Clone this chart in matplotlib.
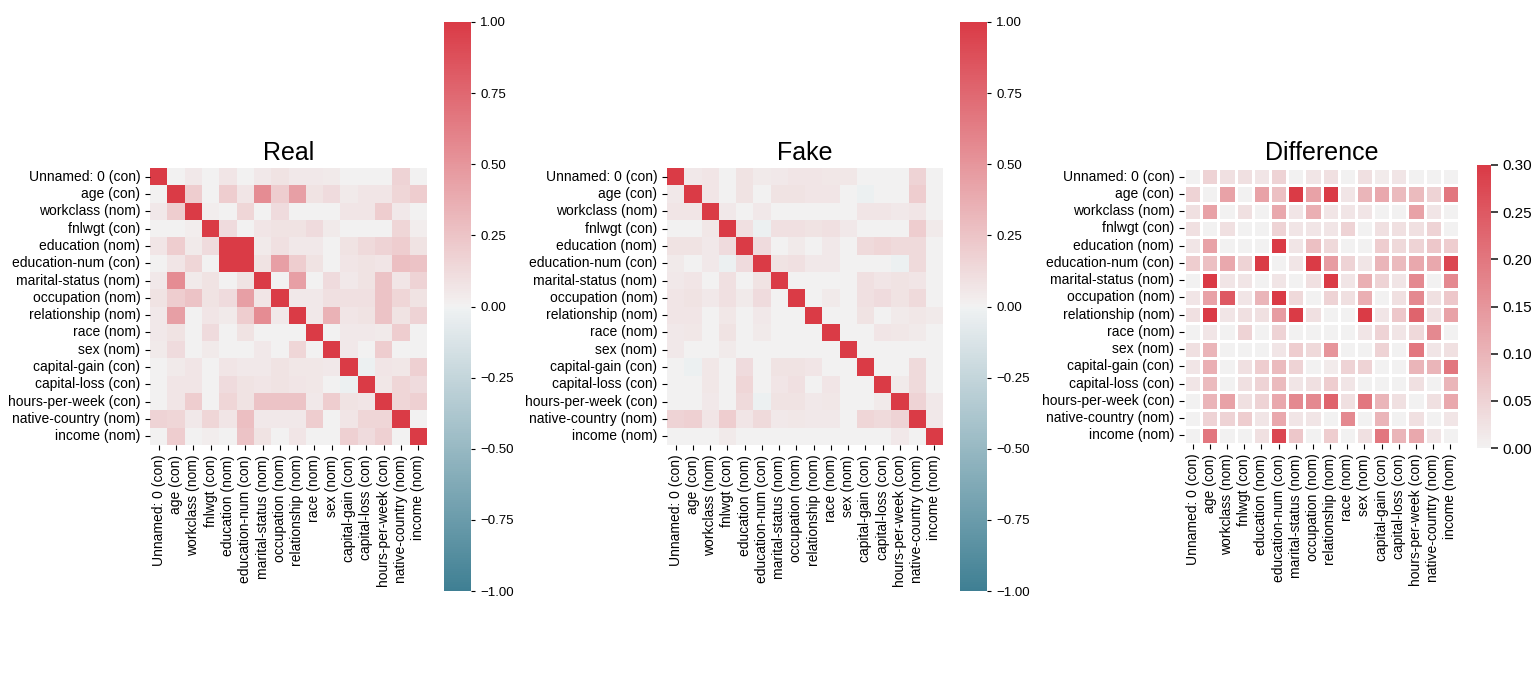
import numpy as np
import matplotlib
matplotlib.use("Agg")
import matplotlib.pyplot as plt
import seaborn as sns

plt.rcParams['font.family'] = ['Liberation Sans', 'DejaVu Sans']

labels = ["Unnamed: 0 (con)", "age (con)", "workclass (nom)", "fnlwgt (con)",
          "education (nom)", "education-num (con)", "marital-status (nom)",
          "occupation (nom)", "relationship (nom)", "race (nom)", "sex (nom)",
          "capital-gain (con)", "capital-loss (con)", "hours-per-week (con)",
          "native-country (nom)", "income (nom)"]

# correlation / association values
real = np.array([
    [1, 0, 0.05, 0, 0.07, 0, 0.05, 0.08, 0.05, 0.05, 0.04, 0, 0, 0, 0.17, 0],
    [0, 1, 0.2, 0, 0.2, 0.07, 0.55, 0.2, 0.45, 0.08, 0.12, 0.04, 0.07, 0.07, 0.15, 0.2],
    [0.05, 0.2, 1, 0.03, 0, 0.15, 0, 0.12, 0, 0, 0, 0.07, 0.07, 0.2, 0.05, 0],
    [0, 0, 0.03, 1, 0.12, 0, 0.07, 0.08, 0.08, 0.12, 0.04, 0, 0, 0, 0.15, 0.03],
    [0.07, 0.2, 0.04, 0.12, 1, 1, 0.04, 0.1, 0.05, 0.05, 0, 0.08, 0.13, 0.17, 0.2, 0.08],
    [0, 0.07, 0.15, 0, 1, 1, 0.08, 0.45, 0.2, 0.08, 0, 0.07, 0.08, 0.07, 0.28, 0.25],
    [0.05, 0.55, 0.04, 0.08, 0, 0.08, 1, 0, 0.45, 0, 0.12, 0.05, 0.08, 0.25, 0.07, 0.17],
    [0.08, 0.2, 0.25, 0.08, 0.12, 0.45, 0.07, 1, 0.05, 0.05, 0.1, 0.1, 0.1, 0.25, 0.15, 0.08],
    [0.05, 0.45, 0, 0.07, 0.04, 0.2, 0.55, 0.05, 1, 0.05, 0.35, 0.07, 0.08, 0.25, 0.08, 0.17],
    [0.05, 0.08, 0, 0.12, 0, 0.08, 0, 0, 0, 1, 0, 0.05, 0.05, 0.04, 0.2, 0],
    [0.04, 0.12, 0, 0.04, 0, 0, 0.05, 0, 0.15, 0, 1, 0.05, 0, 0.2, 0, 0],
    [0, 0.04, 0.07, 0, 0.07, 0.05, 0.05, 0.08, 0.06, 0.06, 0.05, 1, -0.02, 0.07, 0.06, 0.18],
    [0, 0.07, 0.07, 0, 0.12, 0.08, 0.07, 0.08, 0.07, 0.06, 0, -0.02, 1, 0.06, 0.15, 0.12],
    [0, 0.07, 0.2, 0, 0.15, 0.08, 0.25, 0.25, 0.25, 0.05, 0.2, 0.08, 0.07, 1, 0.15, 0.18],
    [0.17, 0.15, 0.05, 0.15, 0.07, 0.28, 0.05, 0.05, 0.05, 0.2, 0, 0.07, 0.15, 0.15, 1, 0],
    [0, 0.2, 0, 0.03, 0, 0.25, 0.08, 0, 0.07, 0, 0, 0.18, 0.12, 0.18, 0, 1],
])

fake = np.array([
    [1, 0.05, 0.07, 0, 0.08, 0.04, 0.05, 0.07, 0.07, 0.06, 0.06, 0, 0, 0, 0.17, 0],
    [0.05, 1, 0.07, 0, 0.08, 0, 0.08, 0.08, 0.07, 0.07, 0, -0.02, 0, 0, 0.2, 0],
    [0.07, 0.07, 1, 0.05, 0, 0.05, 0, 0, 0, 0, 0, 0.07, 0.07, 0.05, 0.07, 0],
    [0, 0, 0.06, 1, 0.1, -0.02, 0.1, 0.1, 0.08, 0.1, 0.05, 0, 0, 0, 0.2, 0.04],
    [0.08, 0.08, 0.05, 0.12, 1, 0.12, 0, 0.04, 0, 0.05, 0, 0.13, 0.15, 0.13, 0.13, 0],
    [0.04, 0, 0.05, -0.02, 0.12, 1, 0.08, 0.1, 0.05, 0.05, 0, 0, 0, -0.02, 0.13, 0],
    [0.05, 0.07, 0, 0.1, 0, 0.08, 1, 0, 0, 0, 0, 0.1, 0.07, 0.08, 0.07, 0],
    [0.07, 0.08, 0.05, 0.1, 0.04, 0.12, 0, 1, 0, 0.04, 0, 0.1, 0.12, 0.08, 0.13, 0],
    [0.07, 0.07, 0, 0.06, 0, 0.05, 0, 0, 1, 0, 0, 0.08, 0, 0.04, 0.06, 0.04],
    [0.05, 0.06, 0, 0.08, 0, 0.04, 0, 0, 0, 1, 0, 0, 0.07, 0.06, 0.04, 0],
    [0.05, 0, 0, 0.04, 0, 0, 0, 0, 0, 0, 1, 0, 0, 0, 0, 0],
    [0, -0.02, 0.06, 0, 0.12, 0, 0.08, 0.08, 0.07, 0, 0, 1, 0, 0, 0.13, 0],
    [0, 0, 0.06, 0, 0.15, 0, 0.07, 0.1, 0, 0.07, 0, 0, 1, 0.04, 0.13, 0],
    [0, 0, 0.05, 0, 0.13, -0.02, 0.08, 0.08, 0.05, 0.06, 0, 0, 0.04, 1, 0.17, 0.05],
    [0.17, 0.18, 0.07, 0.2, 0.07, 0.13, 0.05, 0.06, 0.05, 0.05, 0, 0.15, 0.13, 0.17, 1, 0.05],
    [0, 0, 0, 0.04, 0, 0, 0, 0, 0, 0, 0, 0, 0, 0.05, 0, 1],
])

diff = np.array([
    [0, 0.05, 0.03, 0.03, 0.02, 0.05, 0, 0.02, 0.03, 0, 0.03, 0.01, 0.02, 0, 0, 0],
    [0.05, 0, 0.13, 0, 0.13, 0.08, 0.3, 0.13, 0.3, 0.02, 0.1, 0.12, 0.09, 0.09, 0.05, 0.2],
    [0.03, 0.13, 0, 0.03, 0, 0.12, 0.02, 0.11, 0.02, 0.02, 0.02, 0, 0, 0.13, 0.02, 0],
    [0.03, 0, 0.03, 0, 0, 0.05, 0.02, 0.02, 0.02, 0.05, 0, 0.03, 0.03, 0.03, 0.05, 0],
    [0.02, 0.13, 0, 0, 0, 0.3, 0.02, 0.08, 0.04, 0, 0, 0.06, 0.04, 0.05, 0.07, 0.06],
    [0.06, 0.08, 0.12, 0.05, 0.3, 0, 0.02, 0.3, 0.14, 0.05, 0.02, 0.1, 0.09, 0.12, 0.12, 0.28],
    [0, 0.3, 0.02, 0.02, 0, 0.02, 0, 0.03, 0.3, 0.02, 0.11, 0.05, 0.02, 0.17, 0, 0.17],
    [0.02, 0.13, 0.25, 0.02, 0.1, 0.3, 0.04, 0, 0.05, 0.03, 0.11, 0, 0.03, 0.17, 0.03, 0.07],
    [0.03, 0.3, 0.02, 0.03, 0.03, 0.14, 0.3, 0.03, 0, 0, 0.3, 0.02, 0.07, 0.23, 0.03, 0.13],
    [0, 0.02, 0, 0.05, 0, 0.05, 0, 0, 0, 0, 0.02, 0.05, 0.02, 0.04, 0.17, 0],
    [0.03, 0.1, 0, 0, 0, 0.02, 0.06, 0.04, 0.15, 0, 0, 0.05, 0, 0.2, 0.02, 0.03],
    [0.02, 0.11, 0, 0.03, 0.06, 0.09, 0.05, 0, 0.01, 0.05, 0.05, 0, 0, 0.1, 0.1, 0.2],
    [0.02, 0.09, 0, 0.03, 0.05, 0.09, 0.02, 0.03, 0.06, 0.02, 0, 0, 0, 0.03, 0, 0.1],
    [0, 0.1, 0.13, 0.03, 0.05, 0.12, 0.17, 0.17, 0.23, 0.03, 0.2, 0.1, 0.03, 0, 0.03, 0.12],
    [0, 0.05, 0.05, 0.06, 0.02, 0.12, 0.02, 0.02, 0, 0.17, 0, 0.1, 0, 0.03, 0, 0.02],
    [0, 0.2, 0, 0, 0.03, 0.28, 0.07, 0, 0.06, 0, 0.03, 0.2, 0.1, 0.12, 0.02, 0],
])

cmap = sns.diverging_palette(220, 10, as_cmap=True)

fig = plt.figure(figsize=(15.4, 7), dpi=100)

W, H = 1540, 700
def box(l, t, r, b):
    return [l / W, (H - b) / H, (r - l) / W, (b - t) / H]

ax_real = fig.add_axes(box(150, 168, 427, 445))
cax_real = fig.add_axes(box(444, 22, 471, 591))
ax_fake = fig.add_axes(box(667, 168, 943, 445))
cax_fake = fig.add_axes(box(960, 22, 987, 591))
ax_diff = fig.add_axes(box(1184, 168, 1459, 444))
cax_diff = fig.add_axes(box(1477, 165, 1491, 448))

kws = dict(cmap=cmap, vmin=-1, vmax=1, center=0,
           xticklabels=labels, yticklabels=labels)
sns.heatmap(real, ax=ax_real, cbar_ax=cax_real, **kws)
sns.heatmap(fake, ax=ax_fake, cbar_ax=cax_fake, **kws)
sns.heatmap(diff, ax=ax_diff, cbar_ax=cax_diff, cmap=cmap, vmin=0, vmax=0.3,
            center=0, linewidths=1, linecolor='white',
            xticklabels=labels, yticklabels=labels)

for ax, title in zip([ax_real, ax_fake, ax_diff], ["Real", "Fake", "Difference"]):
    ax.set_title(title, fontsize=18)
    ax.tick_params(labelsize=10)
    plt.setp(ax.get_xticklabels(), rotation=90)
    plt.setp(ax.get_yticklabels(), rotation=0)

for cax in [cax_real, cax_fake]:
    cax.tick_params(labelsize=9.5, length=3)
cax_diff.tick_params(labelsize=11, length=5, width=1.3, color='#333333')

fig.savefig("out.png", dpi=100)
